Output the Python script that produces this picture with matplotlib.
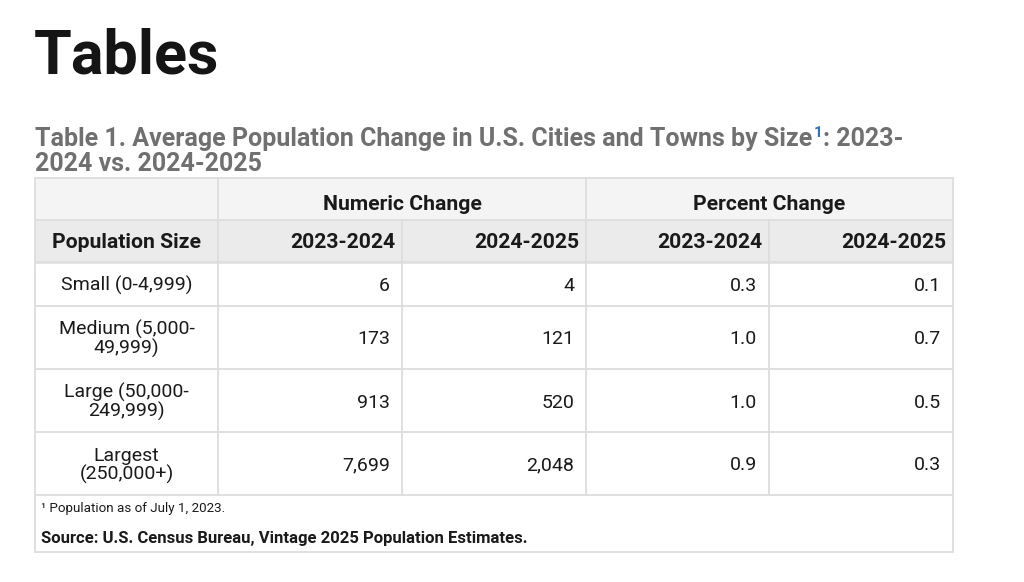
import matplotlib
matplotlib.use("Agg")
import matplotlib.pyplot as plt
from matplotlib.patches import Rectangle

plt.rcParams['font.family'] = ['Roboto', 'DejaVu Sans']

# ---- data ----
title = "Tables"
caption_main = "Table 1. Average Population Change in U.S. Cities and Towns by Size"
caption_sup = "1"
caption_rest = ": 2023-"
caption_line2 = "2024 vs. 2024-2025"
group_headers = ["Numeric Change", "Percent Change"]
col_headers = ["Population Size", "2023-2024", "2024-2025", "2023-2024", "2024-2025"]
categories = ["Small (0-4,999)", "Medium (5,000-\n49,999)", "Large (50,000-\n249,999)", "Largest\n(250,000+)"]
numeric_2023_2024 = [6, 173, 913, 7699]
numeric_2024_2025 = [4, 121, 520, 2048]
percent_2023_2024 = [0.3, 1.0, 1.0, 0.9]
percent_2024_2025 = [0.1, 0.7, 0.5, 0.3]
footnote = "\u00b9 Population as of July 1, 2023."
source = "Source: U.S. Census Bureau, Vintage 2025 Population Estimates."

# ---- layout (pixels) ----
W, H = 1024, 582
fig = plt.figure(figsize=(W / 100, H / 100), dpi=100)
ax = fig.add_axes([0, 0, 1, 1])
ax.set_xlim(0, W)
ax.set_ylim(H, 0)
ax.axis('off')

col_x = [35, 218, 402, 586, 769, 953]
hdr1 = (178, 220)
hdr2 = (220, 262)
row_edges = [262, 306, 369, 432, 495]
table_bottom = 552

border = '#dddddd'
txt = '#1a1a1a'
lw = 1.3

# header fills
ax.add_patch(Rectangle((col_x[0], hdr1[0]), col_x[-1] - col_x[0], hdr1[1] - hdr1[0],
                       facecolor='#f4f4f4', edgecolor='none'))
ax.add_patch(Rectangle((col_x[0], hdr2[0]), col_x[-1] - col_x[0], hdr2[1] - hdr2[0],
                       facecolor='#ebebeb', edgecolor='none'))

# horizontal lines
for y in [hdr1[0], hdr1[1], hdr2[1]] + row_edges[1:] + [table_bottom]:
    ax.plot([col_x[0], col_x[-1]], [y, y], color=border, lw=lw, solid_capstyle='butt')
ax.plot([col_x[0], col_x[-1]], [hdr2[1] + 1.2, hdr2[1] + 1.2], color='#e4e4e4', lw=0.8)

# vertical lines
ax.plot([col_x[0], col_x[0]], [hdr1[0], table_bottom], color=border, lw=lw)
ax.plot([col_x[-1], col_x[-1]], [hdr1[0], table_bottom], color=border, lw=lw)
for x in [col_x[1], col_x[3]]:
    ax.plot([x, x], [hdr1[0], row_edges[-1]], color=border, lw=lw)
for x in [col_x[2], col_x[4]]:
    ax.plot([x, x], [hdr2[0], row_edges[-1]], color=border, lw=lw)

# title
ax.text(34, 73, title, fontsize=44, fontweight='bold', color='#151515', va='baseline', ha='left')

# caption with superscript
cap_color = '#707070'
cap_fs = 18
t1 = ax.text(35, 146, caption_main, fontsize=cap_fs, fontweight='bold', color=cap_color,
             va='baseline', ha='left')
fig.canvas.draw()
r = fig.canvas.get_renderer()
bb = t1.get_window_extent(renderer=r)
x_end = bb.x1
t2 = ax.text(x_end + 1, 137, caption_sup, fontsize=11, fontweight='bold', color='#2b74c7',
             va='baseline', ha='left')
bb2 = t2.get_window_extent(renderer=r)
ax.text(bb2.x1 + 1, 146, caption_rest, fontsize=cap_fs, fontweight='bold', color=cap_color,
        va='baseline', ha='left')
ax.text(35, 171, caption_line2, fontsize=cap_fs, fontweight='bold', color=cap_color,
        va='baseline', ha='left')

# group headers
hfs = 15.2
for i, g in enumerate(group_headers):
    xc = (col_x[1 + 2 * i] + col_x[3 + 2 * i]) / 2
    ax.text(xc, 210, g, fontsize=hfs, fontweight='bold', color=txt, ha='center', va='baseline')

# column headers
ax.text((col_x[0] + col_x[1]) / 2, 248, col_headers[0], fontsize=hfs, fontweight='bold',
        color=txt, ha='center', va='baseline')
for j in range(1, 5):
    ax.text(col_x[j + 1] - 7, 248, col_headers[j], fontsize=hfs, fontweight='bold',
            color=txt, ha='right', va='baseline')

# body
bfs = 14
cols = [numeric_2023_2024, numeric_2024_2025, percent_2023_2024, percent_2024_2025]
fmts = ['{:,}', '{:,}', '{:.1f}', '{:.1f}']
for i, cat in enumerate(categories):
    y0, y1 = row_edges[i], row_edges[i + 1]
    yc = (y0 + y1) / 2
    lines = cat.split('\n')
    n = len(lines)
    spacing = 19
    for k, line in enumerate(lines):
        yb = yc + 7 + (k - (n - 1) / 2) * spacing
        ax.text((col_x[0] + col_x[1]) / 2, yb, line, fontsize=bfs, color=txt,
                ha='center', va='baseline')
    for j, (vals, f) in enumerate(zip(cols, fmts)):
        ax.text(col_x[j + 2] - 12, yc + 7, f.format(vals[i]), fontsize=bfs, color=txt,
                ha='right', va='baseline')

# footnotes
ax.text(41, 512, footnote, fontsize=9.6, color=txt, ha='left', va='baseline')
ax.text(41, 543, source, fontsize=12, fontweight='bold', color=txt, ha='left', va='baseline')

fig.savefig('out.png', dpi=100)
